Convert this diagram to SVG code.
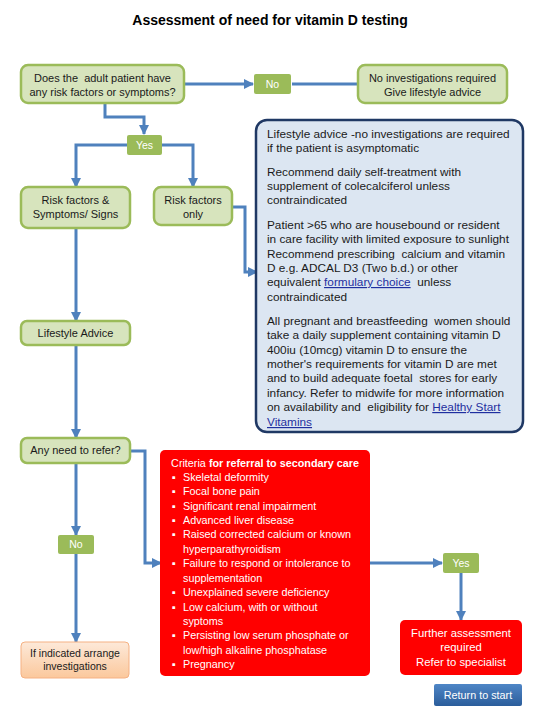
<svg xmlns="http://www.w3.org/2000/svg" width="540" height="720" viewBox="0 0 540 720">
<defs>
<marker id="arr" markerUnits="userSpaceOnUse" markerWidth="10" markerHeight="10" viewBox="0 0 10 10" refX="9" refY="5" orient="auto">
<path d="M0,0 L10,5 L0,10 z" fill="#4f81bd"/>
</marker>
<linearGradient id="og" x1="0" y1="0" x2="0" y2="1">
<stop offset="0" stop-color="#fde9d9"/><stop offset="1" stop-color="#fbc89c"/>
</linearGradient>
<linearGradient id="bg" x1="0" y1="0" x2="0" y2="1">
<stop offset="0" stop-color="#4f86c6"/><stop offset="1" stop-color="#2b5d9b"/>
</linearGradient>
<style>
.g{fill:#d7e4bd;stroke:#9bbb59;stroke-width:2.5}
.gl{fill:#9bbb59}
.t{font-family:"Liberation Sans",Arial,sans-serif;font-size:11px;fill:#1a1a1a;text-anchor:middle}
.w{font-family:"Liberation Sans",Arial,sans-serif;font-size:10.5px;fill:#ffffff;text-anchor:middle}
.b{font-family:"Liberation Sans",Arial,sans-serif;font-size:11.8px;fill:#1a1a1a}
.r{font-family:"Liberation Sans",Arial,sans-serif;font-size:10.8px;fill:#ffffff}
.lk{fill:#1f2fa0;text-decoration:underline}
.c{fill:none;stroke:#4f81bd;stroke-width:3}
</style>
</defs>
<rect width="540" height="720" fill="#ffffff"/>
<text x="270" y="25" style="font-family:'Liberation Sans',Arial,sans-serif;font-size:14px;font-weight:bold;fill:#000" text-anchor="middle">Assessment of need for vitamin D testing</text>

<g id="connectors">
<path class="c" d="M184,84 H253" marker-end="url(#arr)"/>
<path class="c" d="M292,84 H366" marker-end="url(#arr)"/>
<path class="c" d="M105,103 V117 H144 V134" marker-end="url(#arr)"/>
<path class="c" d="M127,145 H76 V187" marker-end="url(#arr)"/>
<path class="c" d="M162,145 H193 V187" marker-end="url(#arr)"/>
<path class="c" d="M232,207 H245 V272 H257" marker-end="url(#arr)"/>
<path class="c" d="M76,228 V321" marker-end="url(#arr)"/>
<path class="c" d="M76,345 V438" marker-end="url(#arr)"/>
<path class="c" d="M130,451 H145 V563 H161" marker-end="url(#arr)"/>
<path class="c" d="M76,463 V535" marker-end="url(#arr)"/>
<path class="c" d="M76,554 V642" marker-end="url(#arr)"/>
<path class="c" d="M370,563 H442" marker-end="url(#arr)"/>
<path class="c" d="M461,573 V620" marker-end="url(#arr)"/>
</g>

<g id="start">
<rect class="g" x="21" y="65" width="163" height="38" rx="7"/>
<text class="t" x="102.5" y="82" xml:space="preserve">Does the  adult patient have</text>
<text class="t" x="102.5" y="96">any risk factors or symptoms?</text>
</g>
<g id="no1">
<rect class="gl" x="254" y="74" width="37" height="20" rx="2"/>
<text class="w" x="272.5" y="88">No</text>
</g>
<g id="noinv">
<rect class="g" x="358" y="65" width="149" height="38" rx="7"/>
<text class="t" x="432.5" y="82">No investigations required</text>
<text class="t" x="432.5" y="96">Give lifestyle advice</text>
</g>
<g id="yes1">
<rect class="gl" x="127" y="135" width="35" height="20" rx="2"/>
<text class="w" x="144.5" y="149">Yes</text>
</g>
<g id="rfs">
<rect class="g" x="21" y="187" width="109" height="41" rx="7"/>
<text class="t" x="75.5" y="204">Risk factors &amp;</text>
<text class="t" x="75.5" y="218">Symptoms/ Signs</text>
</g>
<g id="rfo">
<rect class="g" x="154" y="187" width="78" height="38" rx="7"/>
<text class="t" x="193" y="204">Risk factors</text>
<text class="t" x="193" y="218">only</text>
</g>
<g id="advice">
<rect x="256" y="120" width="267" height="312" rx="11" fill="#dce6f2" stroke="#1f3864" stroke-width="2.5"/>
<text class="b" x="267" y="138">Lifestyle advice -no investigations are required</text>
<text class="b" x="267" y="152">if the patient is asymptomatic</text>
<text class="b" x="267" y="176">Recommend daily self-treatment with</text>
<text class="b" x="267" y="190">supplement of colecalciferol unless</text>
<text class="b" x="267" y="204">contraindicated</text>
<text class="b" x="267" y="229">Patient &gt;65 who are housebound or resident</text>
<text class="b" x="267" y="243">in care facility with limited exposure to sunlight</text>
<text class="b" x="267" y="258" xml:space="preserve">Recommend prescribing  calcium and vitamin</text>
<text class="b" x="267" y="272">D e.g. ADCAL D3 (Two b.d.) or other</text>
<text class="b" x="267" y="286" xml:space="preserve">equivalent <tspan class="lk">formulary choice</tspan>  unless</text>
<text class="b" x="267" y="301">contraindicated</text>
<text class="b" x="267" y="325" xml:space="preserve">All pregnant and breastfeeding  women should</text>
<text class="b" x="267" y="339">take a daily supplement containing vitamin D</text>
<text class="b" x="267" y="354">400iu (10mcg) vitamin D to ensure the</text>
<text class="b" x="267" y="368">mother's requirements for vitamin D are met</text>
<text class="b" x="267" y="382" xml:space="preserve">and to build adequate foetal  stores for early</text>
<text class="b" x="267" y="397">infancy. Refer to midwife for more information</text>
<text class="b" x="267" y="411" xml:space="preserve">on availability and  eligibility for <tspan class="lk">Healthy Start</tspan></text>
<text class="b" x="267" y="426"><tspan class="lk">Vitamins</tspan></text>
</g>
<g id="lifestyle">
<rect class="g" x="21" y="321" width="109" height="24" rx="6"/>
<text class="t" x="75.5" y="337">Lifestyle Advice</text>
</g>
<g id="refer">
<rect class="g" x="21" y="438" width="109" height="25" rx="6"/>
<text class="t" x="75.5" y="454">Any need to refer?</text>
</g>
<g id="criteria">
<rect x="160" y="450" width="210" height="226" rx="5" fill="#ff0000"/>
<text class="r" x="265" y="467" text-anchor="middle">Criteria <tspan font-weight="bold">for referral to secondary care</tspan></text>
<text class="r" x="172" y="481">▪</text><text class="r" x="183" y="481">Skeletal deformity</text>
<text class="r" x="172" y="495">▪</text><text class="r" x="183" y="495">Focal bone pain</text>
<text class="r" x="172" y="510">▪</text><text class="r" x="183" y="510">Significant renal impairment</text>
<text class="r" x="172" y="524">▪</text><text class="r" x="183" y="524">Advanced liver disease</text>
<text class="r" x="172" y="538">▪</text><text class="r" x="183" y="538">Raised corrected calcium or known</text>
<text class="r" x="183" y="553">hyperparathyroidism</text>
<text class="r" x="172" y="567">▪</text><text class="r" x="183" y="567">Failure to respond or intolerance to</text>
<text class="r" x="183" y="582">supplementation</text>
<text class="r" x="172" y="596">▪</text><text class="r" x="183" y="596">Unexplained severe deficiency</text>
<text class="r" x="172" y="611">▪</text><text class="r" x="183" y="611">Low calcium, with or without</text>
<text class="r" x="183" y="625">syptoms</text>
<text class="r" x="172" y="639">▪</text><text class="r" x="183" y="639">Persisting low serum phosphate or</text>
<text class="r" x="183" y="654">low/high alkaline phosphatase</text>
<text class="r" x="172" y="668">▪</text><text class="r" x="183" y="668">Pregnancy</text>
</g>
<g id="no2">
<rect class="gl" x="58" y="535" width="36" height="19" rx="2"/>
<text class="w" x="76" y="548">No</text>
</g>
<g id="arrange">
<rect x="21" y="642" width="108" height="36" rx="4" fill="url(#og)" stroke="#f5b183" stroke-width="1"/>
<text class="t" x="75" y="657" style="font-size:10.5px">If indicated arrange</text>
<text class="t" x="75" y="670" style="font-size:10.5px">investigations</text>
</g>
<g id="yes2">
<rect class="gl" x="443" y="553" width="36" height="20" rx="2"/>
<text class="w" x="461" y="567">Yes</text>
</g>
<g id="further">
<rect x="400" y="620" width="122" height="55" rx="5" fill="#ff0000"/>
<text class="w" x="461" y="637" style="font-size:11.3px">Further assessment</text>
<text class="w" x="461" y="651" style="font-size:11.3px">required</text>
<text class="w" x="461" y="666" style="font-size:11.3px">Refer to specialist</text>
</g>
<g id="return">
<rect x="434" y="684" width="88" height="22" rx="2" fill="url(#bg)"/>
<text class="w" x="478" y="699" style="font-size:10.8px">Return to start</text>
</g>
</svg>
